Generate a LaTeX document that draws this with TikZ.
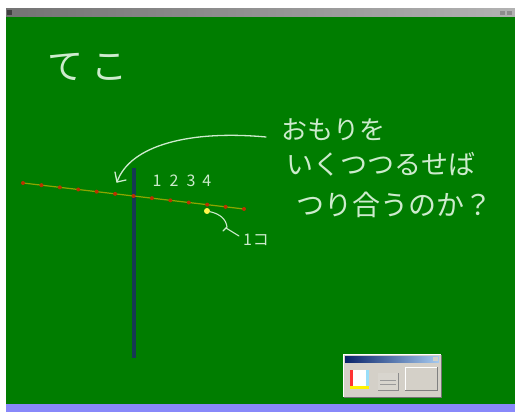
\documentclass[tikz,border=0pt]{standalone}
\usepackage{fontspec}
\newfontfamily\jp{Noto Sans CJK JP}
\usetikzlibrary{calc}
\definecolor{board}{RGB}{0,125,0}
\definecolor{chalk}{RGB}{205,235,205}
\definecolor{post}{RGB}{22,58,84}
\definecolor{leverline}{RGB}{140,165,0}
\definecolor{tick}{RGB}{185,50,0}
\definecolor{winbg}{RGB}{212,208,200}
\definecolor{taskbar}{RGB}{136,136,250}
\tikzset{
  chalktext/.style={text=chalk, inner sep=0pt, font=\jp},
  chalkline/.style={draw=chalk, line width=1.3pt, line cap=round, line join=round},
  tickdot/.style={circle, fill=tick, inner sep=0pt, minimum size=4pt},
}
\begin{document}
\begin{tikzpicture}[x=1pt,y=-1pt]
\useasboundingbox (0,0) rectangle (515,412);
\fill[white] (0,0) rectangle (515,412);
% window title bar
\shade[left color=black!55, right color=black!30] (6,9) rectangle (515,17);
\fill[black!75] (7,10) rectangle (12,15);
\fill[black!45] (500,11) rectangle (505,15);
\fill[black!45] (507,11) rectangle (512,15);
% board
\fill[board] (6,17) rectangle (515,404);
\fill[taskbar] (6,404) rectangle (515,412);
% title
\node[chalktext, font=\jp\fontsize{36}{40}\selectfont] (title) at (88,67) {て\hspace{8pt}こ};
% post
\fill[post] (132,168) rectangle (136,358);
% lever
\coordinate (L) at (23,183);
\coordinate (R) at (244,209);
\draw[leverline, line width=1.2pt] (L) -- (R);
\foreach \i in {0,...,12} {
  \node[tickdot] (d\i) at ($(L)!\i/12!(R)$) {};
}
\node[circle, fill=yellow!70!white, inner sep=0pt, minimum size=6pt] (weight) at (207,211) {};
% numbers
\node[chalktext, font=\jp\fontsize{16}{18}\selectfont] (nums) at (182,181) {1\hspace{8pt}2\hspace{8pt}3\hspace{7pt}4};
% question
\node[chalktext, anchor=west, font=\jp\fontsize{26}{30}\selectfont] (q1) at (281,130) {おもりを};
\node[chalktext, anchor=west, font=\jp\fontsize{27}{30}\selectfont] (q2) at (286,164) {いくつつるせば};
\node[chalktext, anchor=west, font=\jp\fontsize{28}{30}\selectfont] (q3) at (296,205) {つり合うのか？};
% arrow from question to lever
\coordinate (tip) at (117,182);
\draw[chalkline] (266,137) .. controls (190,130) and (130,145) .. (tip);
\draw[chalkline] (115,172) -- (tip) -- (126,180);
% label of the weight
\node[chalktext, font=\jp\fontsize{16}{18}\selectfont] (one) at (256,240) {1\hspace{1pt}コ};
\draw[chalkline, line width=1.1pt] (weight) .. controls (220,214) and (226,219) .. (227,227)
  -- (223,231);
\draw[chalkline, line width=1.1pt] (226,228) -- (239,236);
% small tool window
\fill[black!55] (344,355) rectangle (442,398);
\fill[winbg] (343,354) rectangle (441,397);
\draw[white] (343.5,397) -- (343.5,354.5) -- (441,354.5);
\shade[left color={rgb,255:red,10;green,36;blue,106}, right color={rgb,255:red,166;green,202;blue,240}] (345,356) rectangle (439,362);
\fill[winbg] (433,357) rectangle (438,361);
% colour swatch
\fill[white] (350,370) rectangle (369,389);
\fill[red!80] (350,370) rectangle (353,389);
\fill[cyan!40] (366,370) rectangle (369,389);
\fill[yellow] (350,386) rectangle (369,389);
% line button
\fill[winbg!90!white] (378,373) rectangle (398,390);
\draw[black!45] (398,373) -- (398,390) -- (378,390);
\draw[black!40] (380,380) -- (396,380);
\draw[black!40] (380,384) -- (396,384);
% erase button
\draw[white] (405,390) -- (405,367) -- (437,367);
\draw[black!50] (437,367) -- (437,390) -- (405,390);
\end{tikzpicture}
\end{document}
